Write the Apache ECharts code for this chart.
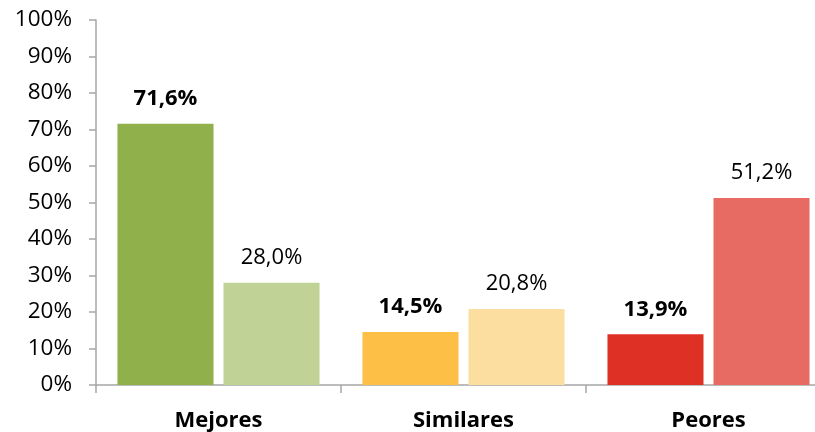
<!DOCTYPE html>
<html>
<head>
<meta charset="utf-8">
<script src="https://cdn.jsdelivr.net/npm/echarts@6/dist/echarts.min.js"></script>
<style>html,body{margin:0;padding:0;background:#fff;overflow:hidden;width:815px;height:432px;}#c{width:832px;height:432px;}</style>
</head>
<body>
<div id="c"></div>
<script>
const categories = ['Mejores', 'Similares', 'Peores'];
const firstValues = [71.6, 14.5, 13.9];
const secondValues = [28.0, 20.8, 51.2];
const yTicks = { min: 0, max: 100, interval: 10 };

const firstColors = ['#8FB04A', '#FDBF45', '#DE3024'];
const secondColors = ['#C0D296', '#FCDFA0', '#E86B63'];

const FONT = '"Open Sans", sans-serif';
const fmt = v => v.toFixed(1).replace('.', ',') + '%';

const chart = echarts.init(document.getElementById('c'), null, { renderer: 'canvas' });
chart.setOption({
  animation: false,
  backgroundColor: '#fff',
  grid: { left: 96, right: 1, top: 20, bottom: 46, containLabel: false },
  xAxis: {
    type: 'category',
    data: categories,
    axisLine: { lineStyle: { color: '#A6A6A6', width: 1.5 } },
    axisTick: { show: true, alignWithLabel: false, length: 8, lineStyle: { color: '#A6A6A6', width: 1.5 } },
    axisLabel: { color: '#000', fontFamily: FONT, fontWeight: 'bold', fontSize: 22, margin: 25 }
  },
  yAxis: {
    type: 'value',
    min: yTicks.min, max: yTicks.max, interval: yTicks.interval,
    splitLine: { show: false },
    axisLine: { show: true, lineStyle: { color: '#A6A6A6', width: 1.5 } },
    axisTick: { show: true, length: 7, lineStyle: { color: '#A6A6A6', width: 1.5 } },
    axisLabel: { color: '#000', fontFamily: FONT, fontSize: 22.5, margin: 24, formatter: '{value}%' }
  },
  series: [
    {
      type: 'bar',
      barWidth: '39.2%',
      barGap: '10.4%',
      data: firstValues.map((v, i) => ({ value: v, itemStyle: { color: firstColors[i] } })),
      label: { show: true, position: 'top', distance: 14, color: '#000', fontFamily: FONT, fontWeight: 'bold', fontSize: 22, formatter: p => fmt(p.value) }
    },
    {
      type: 'bar',
      barWidth: '39.2%',
      data: secondValues.map((v, i) => ({ value: v, itemStyle: { color: secondColors[i] } })),
      label: { show: true, position: 'top', distance: 14, color: '#000', fontFamily: FONT, fontSize: 22, formatter: p => fmt(p.value) }
    }
  ]
});
</script>
</body>
</html>
